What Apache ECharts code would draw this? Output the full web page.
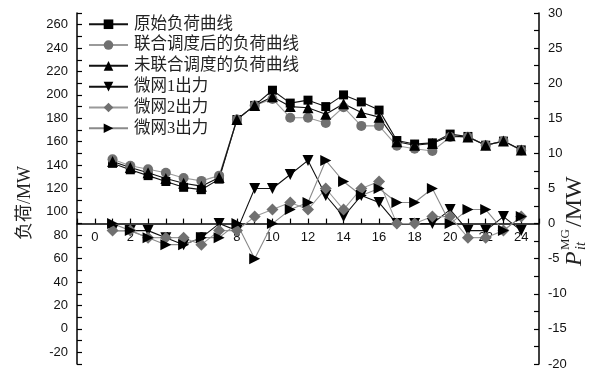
<!DOCTYPE html>
<html>
<head>
<meta charset="utf-8">
<script src="https://cdn.jsdelivr.net/npm/echarts@6/dist/echarts.min.js"></script>
<style>
  html, body { margin: 0; padding: 0; background: #fff; }
  #chart { width: 598px; height: 369px; }
</style>
</head>
<body>
<div id="chart"></div>
<script>
// Hours of the day
const hours = [1,2,3,4,5,6,7,8,9,10,11,12,13,14,15,16,17,18,19,20,21,22,23,24];

// Load curves (MW, left axis)
const loadOriginal  = [141.5,136,131,126,121,119,128,179,191,204,193,195.5,190,200,194,187,161,158,159,166.5,164.5,157,160.5,153];
const loadJoint     = [145,139.5,136.5,133.5,129,126.5,131,179,191,196.5,180.5,180.5,176,189.5,173.5,173.5,156.5,154,152,164,164,157,160.5,152.5];
const loadSeparate  = [143,138,133.5,128.5,124.5,122,129.5,179,191,198.5,190,189,183.5,192.5,185,181,160,157,158.5,165,164,157,160.5,153];

// Microgrid outputs (MW, right axis)
const mg1 = [-1,-1,-1,-2,-3,-2,0,-1,5,5,7,9,4,1,4,3,0,0,0,2,-1,-1,1,-1];
const mg2 = [-1,-1,-2,-2,-2,-3,-1,-1,1,2,3,2,5,2,5,6,0,0,1,1,-2,-2,-1,1];
const mg3 = [0,-1,-2,-3,-3,-2,-2,0,-5,0,2,3,9,6,4,5,3,3,5,0,2,2,-1,1];

const seriesNames = ['原始负荷曲线','联合调度后的负荷曲线','未联合调度的负荷曲线','微网1出力','微网2出力','微网3出力'];

// Axis extents
const leftRange = [-30, 270];
const rightRange = [-20, 30];
const xRange = [-1, 25];

const pairs = vals => hours.map((h, i) => [h, vals[i]]);

const axisFont = { fontFamily: 'Liberation Sans, Arial, sans-serif', fontSize: 13, color: '#111' };
const cjkSerif = 'Liberation Serif, "Noto Sans CJK SC", serif';

// plot area
const G = { left: 77, right: 59, top: 13, bottom: 5 };
const plotH = 369 - G.top - G.bottom;
// the hour axis runs along the zero line of the right-hand axis
const zeroFromBottom = plotH * (0 - rightRange[0]) / (rightRange[1] - rightRange[0]);

function lineSeries(name, data, yIdx, lineColor, symColor, symbol, size, rot) {
  return {
    name, type: 'line', data: pairs(data), yAxisIndex: yIdx,
    symbol, symbolSize: size, symbolRotate: rot || 0,
    showAllSymbol: true,
    lineStyle: { color: lineColor, width: 1.1 },
    itemStyle: { color: symColor, borderWidth: 0 },
    emphasis: { disabled: true },
    animation: false
  };
}

const chart = echarts.init(document.getElementById('chart'), null, { renderer: 'canvas' });
chart.setOption({
  animation: false,
  grid: { left: G.left, right: G.right, top: G.top, bottom: G.bottom, containLabel: false, outerBoundsMode: 'none' },
  legend: {
    orient: 'vertical', left: 83, top: 11,
    itemWidth: 39, itemHeight: 12, itemGap: 4.3,
    data: seriesNames,
    textStyle: { fontFamily: cjkSerif, fontSize: 16.5, color: '#222', padding: [0, 0, 0, 1] }
  },
  xAxis: {
    type: 'value', min: xRange[0], max: xRange[1], interval: 1,
    position: 'bottom', offset: -zeroFromBottom,
    axisLine: { onZero: false, lineStyle: { color: '#000', width: 1.5 } },
    axisTick: { inside: true, length: 5, lineStyle: { color: '#000', width: 1.2 } },
    axisLabel: Object.assign({ margin: 7, formatter: v => (v >= 0 && v <= 24 && v % 2 === 0) ? String(v) : '' }, axisFont),
    splitLine: { show: false }
  },
  yAxis: [
    {
      type: 'value', position: 'left', min: leftRange[0], max: leftRange[1], interval: 10,
      axisLine: { show: true, onZero: false, lineStyle: { color: '#000', width: 1.5 } },
      axisTick: { show: true, inside: true, length: 5, lineStyle: { color: '#000', width: 1.2 } },
      axisLabel: Object.assign({ margin: 9, formatter: v => (v % 20 === 0 && v >= -20 && v <= 260) ? String(v) : '' }, axisFont),
      splitLine: { show: false }
    },
    {
      type: 'value', position: 'right', min: rightRange[0], max: rightRange[1], interval: 2.5,
      axisLine: { show: true, onZero: false, lineStyle: { color: '#000', width: 1.5 } },
      axisTick: { show: true, inside: true, length: 5, lineStyle: { color: '#000', width: 1.2 } },
      axisLabel: Object.assign({ margin: 9, formatter: v => (v % 5 === 0) ? String(v) : '' }, axisFont),
      splitLine: { show: false }
    }
  ],
  graphic: [
    {
      // left axis title
      type: 'text', x: 25, y: 203, rotation: Math.PI / 2,
      style: { text: '负荷/MW', font: '18px ' + cjkSerif, fill: '#222', align: 'center', verticalAlign: 'middle' }
    },
    {
      // right axis title: P with stacked MG / it indices, then /MW
      type: 'group', x: 575, y: 266, rotation: Math.PI / 2,
      children: [
        { type: 'text', x: 0, y: 0, style: { text: 'P', font: 'italic 24px Liberation Serif', fill: '#222', verticalAlign: 'middle' } },
        { type: 'text', x: 16, y: -9, style: { text: 'MG', font: '13px Liberation Serif', fill: '#222', verticalAlign: 'middle' } },
        { type: 'text', x: 16, y: 6, style: { text: 'it', font: 'italic 14px Liberation Serif', fill: '#222', verticalAlign: 'middle' } },
        { type: 'text', x: 39, y: 0, style: { text: '/MW', font: '24px Liberation Serif', fill: '#222', verticalAlign: 'middle' } }
      ]
    }
  ],
  series: [
    lineSeries(seriesNames[0], loadOriginal, 0, '#111', '#000', 'rect', 9),
    lineSeries(seriesNames[1], loadJoint, 0, '#9a9a9a', '#707070', 'circle', 10),
    lineSeries(seriesNames[2], loadSeparate, 0, '#111', '#000', 'triangle', 11),
    lineSeries(seriesNames[3], mg1, 1, '#111', '#000', 'triangle', 11, 180),
    lineSeries(seriesNames[4], mg2, 1, '#9a9a9a', '#707070', 'diamond', 12),
    lineSeries(seriesNames[5], mg3, 1, '#8a8a8a', '#000', 'triangle', 11, -90)
  ]
});
</script>
</body>
</html>
